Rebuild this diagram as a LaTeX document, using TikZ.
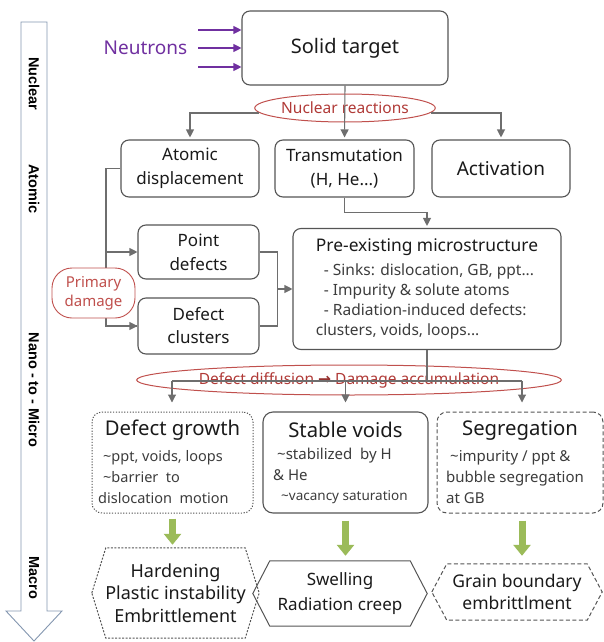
\documentclass[tikz,border=0pt]{standalone}
\usepackage{fontspec}
\setmainfont{Noto Sans}
\newfontfamily\djv{DejaVu Sans}
\newfontfamily\axfont{Liberation Sans}
\usetikzlibrary{arrows.meta,calc,shapes.geometric}
\definecolor{boxc}{HTML}{555555}
\definecolor{arrc}{HTML}{6E6E6E}
\definecolor{redc}{HTML}{C0504D}
\definecolor{redt}{HTML}{B03A37}
\definecolor{purp}{HTML}{7030A0}
\definecolor{grn}{HTML}{9BBB59}
\definecolor{subt}{HTML}{3C3C3C}
\definecolor{axc}{HTML}{8497B0}
\definecolor{txt}{HTML}{1A1A1A}
\newcommand\fsz[2]{\fontsize{#1pt}{#2pt}\selectfont}
\newcommand\tld{\textasciitilde}
\begin{document}
\begin{tikzpicture}[x=1pt,y=-1pt,
  box/.style={draw=boxc,line width=1.1pt,rounded corners=8pt,inner sep=0pt,align=center,text=txt},
  hexn/.style={inner sep=0pt,align=center,text=txt},
  hexl/.style={draw=boxc,line width=1pt},
  arr/.style={draw=arrc,line width=1.1pt,-{Triangle[length=8pt,width=8pt]}},
  ln/.style={draw=arrc,line width=1.1pt},
  parr/.style={draw=purp,line width=1.1pt,-{Triangle[length=8pt,width=8pt]}},
  garr/.style={draw=grn,line width=7pt,-{Triangle[length=11pt,width=17pt]}},
  ell/.style={ellipse,draw=redc,line width=1pt,inner sep=0pt,text=redt,font=\fsz{15.5}{18}},
  axl/.style={rotate=-90,font=\axfont\bfseries\fsz{14.5}{16},text=black},
  subl/.style={anchor=west,align=left,inner sep=0pt,text=subt}
]
\useasboundingbox (0,0) rectangle (604,642);

% left scale arrow
\draw[axc,line width=0.9pt,fill=white] (21,22) -- (47,22) -- (47,611) -- (62,611) -- (34,641) -- (6,611) -- (21,611) -- cycle;
\node[axl] (axN) at (34,84) {Nuclear};
\node[axl] (axA) at (34,189) {Atomic};
\node[axl] (axM) at (34,390) {Nano - to - Micro};
\node[axl] (axC) at (34,578) {Macro};

% top
\node[box,minimum width=206pt,minimum height=74pt,font=\fsz{20}{24}] (tgt) at (345,48) {Solid target};
\node[inner sep=0pt,text=purp,font=\fsz{19}{22}] (neu) at (145.5,48) {Neutrons};
\coordinate (n1) at (198,30);
\coordinate (n2) at (198,48);
\coordinate (n3) at (198,67);
\draw[parr] (n1) -- (n1 -| tgt.west);
\draw[parr] (n2) -- (n2 -| tgt.west);
\draw[parr] (n3) -- (n3 -| tgt.west);

% row 2
\node[box,minimum width=138pt,minimum height=57pt,font=\fsz{17}{24.5}] (atd) at (190,168.5) {Atomic\\displacement};
\node[box,minimum width=139pt,minimum height=57pt,font=\fsz{17}{24.5}] (trn) at (344.5,168.5) {Transmutation\\(H, He...)};
\node[box,minimum width=138pt,minimum height=57pt,font=\fsz{19}{24}] (act) at (501,168.5) {Activation};

\node[ell,minimum width=164pt,minimum height=28pt] (nr) at (345,108) {Nuclear reactions};
\draw[arr,shorten >=2pt] (tgt.south) -- (trn.north);
\draw[arr,shorten >=2pt] ($(nr.west)+(5,5)$) -| (atd.north);
\draw[arr,shorten >=2pt] ($(nr.east)+(-5,5)$) -| (act.north);

% row 3
\node[box,minimum width=121pt,minimum height=54pt,font=\fsz{17}{24}] (pd) at (198.5,252) {Point\\defects};
\node[box,minimum width=121pt,minimum height=56pt,font=\fsz{17}{23}] (dc) at (198.5,326) {Defect\\clusters};
\node[box,minimum width=268pt,minimum height=121pt,align=left,font=\fsz{15.5}{20},text=subt] (pre) at (427,289)
  {{\fsz{17.4}{20}\color{txt}Pre-existing microstructure}\\[4pt]
   \hspace*{8pt}- Sinks: dislocation, GB, ppt...\\
   \hspace*{8pt}- Impurity \& solute atoms\\
   \hspace*{8pt}- Radiation-induced defects:\\
   clusters, voids, loops...};

\draw[arr,shorten >=2pt] (trn.south) -- ++(0,15) -| (pre.north);
\coordinate (bl) at (106,252);
\draw[ln] (atd.west) -- ++(-15,0) |- (dc.west);
\draw[arr] (atd.west -| bl) |- (dc.west);
\draw[arr] (bl) -- (pd.west);
\draw[ln] (pd.east) -- ++(18,0) |- (dc.east);
\coordinate (mg) at (277,289);
\draw[arr] (mg) -- (pre.west);
\node[draw=redc,line width=0.9pt,rounded corners=20pt,fill=white,minimum width=83pt,minimum height=50pt,
      inner sep=0pt,align=center,font=\fsz{15}{19},text=redc] (prim) at (93.5,293) {Primary\\damage};

% row 4
\node[box,minimum width=161pt,minimum height=101pt,line width=1pt,dash pattern=on 1.2pt off 1.6pt,rounded corners=10pt] (dg) at (172.5,462.5) {};
\node[box,minimum width=165pt,minimum height=101pt,rounded corners=10pt] (sv) at (345.5,462.5) {};
\node[box,minimum width=166pt,minimum height=101pt,line width=1pt,dash pattern=on 4pt off 2.5pt,rounded corners=10pt] (sg) at (520,462.5) {};

\node[inner sep=0pt,text=txt,font=\fsz{20.3}{24}] (dgT) at (172.5,430) {Defect growth};
\node[inner sep=0pt,text=txt,font=\fsz{20.3}{24}] (svT) at (345.5,430) {Stable voids};
\node[inner sep=0pt,text=txt,font=\fsz{20.3}{24}] (sgT) at (520,430) {Segregation};
\node[subl,font=\fsz{14.5}{21}] (dgB) at (98,477) {\hspace*{5pt}\tld ppt, voids, loops\\\hspace*{5pt}\tld barrier\ \ to\\dislocation\ \ motion};
\node[subl,font=\fsz{15}{20.5}] (svB) at (273,476) {\hspace*{4pt}\tld stabilized\ \ by H\\\& He\\\hspace*{8pt}{\fsz{13.5}{20.5}\tld vacancy saturation}};
\node[subl,font=\fsz{15}{21}] (sgB) at (446,477) {\hspace*{4pt}\tld impurity / ppt \&\\bubble segregation\\at GB};

\node[ell,minimum width=375pt,minimum height=30pt] (dd) at (349,380)
  {Defect diffusion {\djv\bfseries\color{redt!85!black}→} Damage accumulation};
\coordinate (dl) at (172,381);
\coordinate (dr) at (522,381);
\draw[ln] (pre.south) -- (pre.south |- dl);
\draw[ln] (dl) -- (dr);
\draw[arr,shorten >=9pt] (dl) -- (dl |- dg.north);
\draw[arr,shorten >=9pt] (sv.north |- dl) -- (sv.north);
\draw[arr,shorten >=9pt] (dr) -- (dr |- sg.north);

% macro hexagons
\node[hexn,minimum width=167pt,minimum height=90pt,font=\fsz{18}{22.5}] (h1) at (175.5,593) {Hardening\\Plastic instability\\Embrittlement};
\node[hexn,minimum width=174pt,minimum height=65pt,font=\fsz{17}{25}] (h2) at (340,593.5) {Swelling\\Radiation creep};
\node[hexn,minimum width=170pt,minimum height=56pt,font=\fsz{17.5}{22}] (h3) at (517,592) {Grain boundary\\embrittlment};
\draw[hexl,dash pattern=on 2pt off 1.5pt] (h1.west) -- ($(h1.north west)+(14,0)$) -- ($(h1.north east)+(-14,0)$) -- (h1.east) -- ($(h1.south east)+(-14,0)$) -- ($(h1.south west)+(14,0)$) -- cycle;
\draw[hexl] (h2.west) -- ($(h2.north west)+(17,0)$) -- ($(h2.north east)+(-17,0)$) -- (h2.east) -- ($(h2.south east)+(-17,0)$) -- ($(h2.south west)+(17,0)$) -- cycle;
\draw[hexl,dash pattern=on 4pt off 2.5pt] (h3.west) -- ($(h3.north west)+(15,0)$) -- ($(h3.north east)+(-15,0)$) -- (h3.east) -- ($(h3.south east)+(-15,0)$) -- ($(h3.south west)+(15,0)$) -- cycle;

\draw[garr] ($(dg.south)+(0,5)$) -- ($(h1.north)+(-3,-3)$);
\draw[garr] ($(sv.south)+(0,7)$) -- ($(sv.south |- h2.north)+(0,-5)$);
\draw[garr] ($(sg.south)+(2,7)$) -- ($(sg.south |- h3.north)+(2,-8)$);
\end{tikzpicture}
\end{document}
